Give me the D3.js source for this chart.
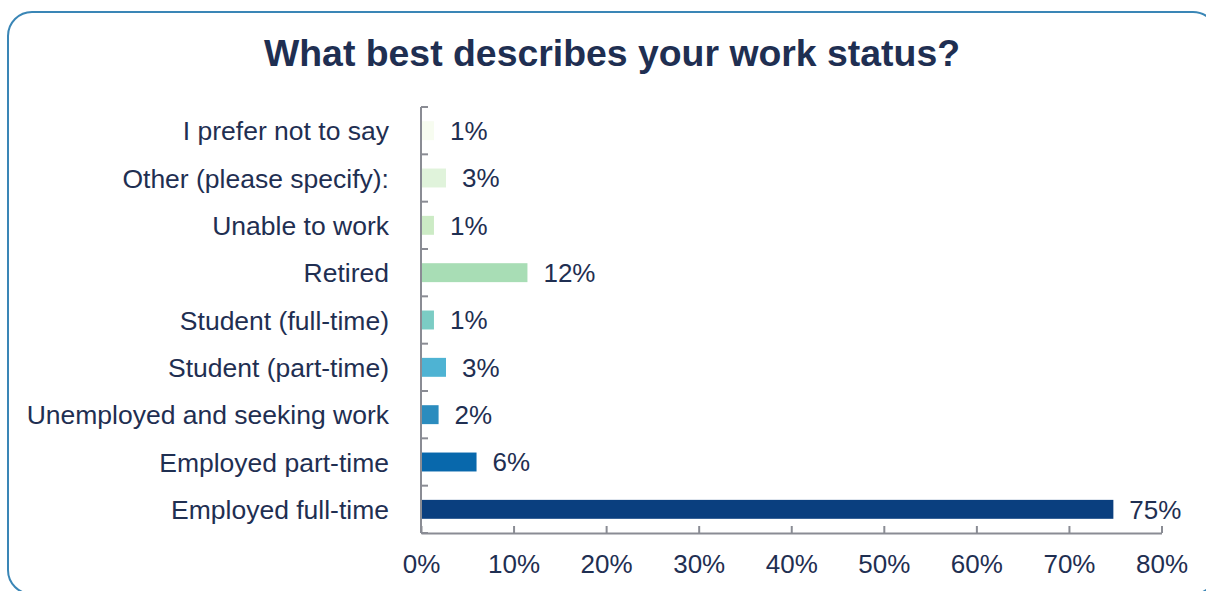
<!DOCTYPE html>
<html>
<head>
<meta charset="utf-8">
<script src="https://cdn.jsdelivr.net/npm/d3@7"></script>
<style>
  html, body { margin: 0; padding: 0; background: #fff; }
  svg { display: block; font-family: "Liberation Sans", Arial, sans-serif; }
</style>
</head>
<body>
<svg id="chart" width="1206" height="591"></svg>
<script>
const title = "What best describes your work status?";
const categories = ["I prefer not to say", "Other (please specify):", "Unable to work", "Retired",
  "Student (full-time)", "Student (part-time)", "Unemployed and seeking work",
  "Employed part-time", "Employed full-time"];
const values = [1.4, 2.7, 1.4, 11.5, 1.4, 2.7, 1.9, 6.0, 74.8];
const valueLabels = ["1%", "3%", "1%", "12%", "1%", "3%", "2%", "6%", "75%"];
const barColors = ["#f7fcf0", "#e0f3db", "#ccebc5", "#a8ddb5", "#7bccc4", "#4eb3d3", "#2b8cbe", "#0868ac", "#0a3f7f"];
const xTicks = [0, 10, 20, 30, 40, 50, 60, 70, 80];

const textColor = "#1f2f52";
const axisColor = "#8a8c94";
const svg = d3.select("#chart");

// Border
svg.append("rect")
  .attr("x", 8).attr("y", 12).attr("width", 1209).attr("height", 582)
  .attr("rx", 24).attr("ry", 24)
  .attr("fill", "none").attr("stroke", "#3a86b6").attr("stroke-width", 2);

// Title
svg.append("text")
  .attr("x", 612).attr("y", 66)
  .attr("text-anchor", "middle")
  .attr("font-size", 37.4).attr("font-weight", "bold")
  .attr("fill", textColor)
  .text(title);

const x = d3.scaleLinear().domain([0, 80]).range([421, 1161.5]);
const y = d3.scaleBand().domain(categories).range([107, 533]).paddingInner(0.6).paddingOuter(0.3);

// Bars
svg.append("g").selectAll("rect")
  .data(categories)
  .join("rect")
  .attr("x", x(0))
  .attr("y", d => y(d))
  .attr("width", (d, i) => x(values[i]) - x(0))
  .attr("height", y.bandwidth())
  .attr("fill", (d, i) => barColors[i]);

// Value labels
svg.append("g").selectAll("text")
  .data(categories)
  .join("text")
  .attr("x", (d, i) => x(values[i]) + 16)
  .attr("y", d => y(d) + y.bandwidth() / 2)
  .attr("dy", "0.36em")
  .attr("font-size", 26)
  .attr("fill", textColor)
  .text((d, i) => valueLabels[i]);

// Category labels
svg.append("g").selectAll("text")
  .data(categories)
  .join("text")
  .attr("x", 389)
  .attr("y", d => y(d) + y.bandwidth() / 2)
  .attr("dy", "0.36em")
  .attr("text-anchor", "end")
  .attr("font-size", 26.5)
  .attr("fill", textColor)
  .text(d => d);

// Y axis with ticks at category boundaries
const step = y.step();
const boundaries = d3.range(categories.length + 1).map(i => 107 + i * step);
const yAxisG = svg.append("g");
yAxisG.append("line")
  .attr("x1", x(0)).attr("x2", x(0))
  .attr("y1", 107).attr("y2", 533)
  .attr("stroke", axisColor).attr("stroke-width", 2);
yAxisG.selectAll("line.tick")
  .data(boundaries)
  .join("line")
  .attr("class", "tick")
  .attr("x1", x(0)).attr("x2", x(0) + 7)
  .attr("y1", d => d).attr("y2", d => d)
  .attr("stroke", axisColor).attr("stroke-width", 2);

// X axis
const xAxis = d3.axisBottom(x)
  .tickValues(xTicks)
  .tickSize(-7)
  .tickSizeOuter(0)
  .tickPadding(22)
  .tickFormat(d => d + "%");
const xg = svg.append("g").attr("transform", "translate(0,533)").call(xAxis);
xg.select(".domain").attr("stroke", axisColor).attr("stroke-width", 2);
xg.selectAll(".tick line").attr("stroke", axisColor).attr("stroke-width", 2);
xg.selectAll(".tick text")
  .attr("font-size", 26)
  .attr("font-family", "'Liberation Sans', Arial, sans-serif")
  .attr("fill", textColor);
</script>
</body>
</html>
